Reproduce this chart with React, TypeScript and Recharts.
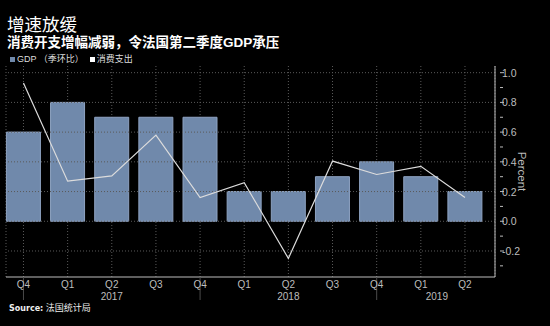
import {
  ComposedChart,
  Bar,
  Line,
  XAxis,
  YAxis,
  CartesianGrid,
  ReferenceLine,
} from "recharts";

const quarters = ["Q4", "Q1", "Q2", "Q3", "Q4", "Q1", "Q2", "Q3", "Q4", "Q1", "Q2"];
const gdp = [0.6, 0.8, 0.7, 0.7, 0.7, 0.2, 0.2, 0.3, 0.4, 0.3, 0.2];
const spending = [0.93, 0.27, 0.305, 0.58, 0.16, 0.26, -0.25, 0.405, 0.315, 0.37, 0.16];
const yearLabels: Record<number, string> = { 2: "2017", 6: "2018", 9: "2019" };
const yearBreaks = [0, 4, 8];
const yTicks = [-0.2, 0, 0.2, 0.4, 0.6, 0.8, 1.0];
const yMinorTicks = [-0.3, -0.1, 0.1, 0.3, 0.5, 0.7, 0.9];

const data = quarters.map((q, i) => ({ i, q, gdp: gdp[i], spending: spending[i] }));

const FONT = '"Liberation Sans", "Noto Sans CJK SC", sans-serif';
const AXIS = "#bdbdbd";

// the tick y handed over sits 8px below the axis line
function QuarterTick(props: any) {
  const { x, y, payload } = props;
  const i = payload.value as number;
  const base = y - 8;
  return (
    <g>
      {yearBreaks.includes(i) && (
        <line x1={x} y1={base} x2={x} y2={base + 23} stroke="#4a4a4a" strokeWidth={1} />
      )}
      <text x={x} y={base + 10.5} textAnchor="middle" fill={AXIS} fontSize={10} fontFamily={FONT}>
        {quarters[i]}
      </text>
      {yearLabels[i] && (
        <text
          x={i === 9 ? x + 16 : x}
          y={base + 22.5}
          textAnchor="middle"
          fill={AXIS}
          fontSize={10}
          fontFamily={FONT}
        >
          {yearLabels[i]}
        </text>
      )}
    </g>
  );
}

function ValueTick(props: any) {
  const { x, y, payload } = props;
  const v = payload.value as number;
  const major = yTicks.some((t) => Math.abs(t - v) < 1e-6);
  return (
    <g>
      <line x1={x - 3} y1={y} x2={x + (major ? 1 : 0)} y2={y} stroke={AXIS} strokeWidth={1} />
      {major && (
        <text x={x - 1} y={y + 4} fill={AXIS} fontSize={10.5} fontFamily={FONT}>
          {v.toFixed(1)}
        </text>
      )}
    </g>
  );
}

export default function App() {
  return (
    <div
      style={{
        position: "fixed",
        left: 0,
        top: 0,
        width: 550,
        height: 326,
        background: "#000",
        fontFamily: FONT,
        overflow: "hidden",
      }}
    >
      <div style={{ position: "absolute", left: 7, top: 15, color: "#fff", fontSize: 17.5, lineHeight: "20px" }}>
        增速放缓
      </div>
      <div
        style={{
          position: "absolute",
          left: 7,
          top: 35,
          color: "#fff",
          fontSize: 13.5,
          fontWeight: 700,
          lineHeight: "15px",
        }}
      >
        消费开支增幅减弱，令法国第二季度GDP承压
      </div>
      <div
        style={{
          position: "absolute",
          left: 10,
          top: 53,
          color: "#ddd",
          fontSize: 9,
          lineHeight: "12px",
          display: "flex",
          alignItems: "center",
        }}
      >
        <span style={{ width: 5, height: 5, background: "#7089ab", marginRight: 2 }} />
        <span>GDP （季环比）</span>
        <span style={{ width: 5, height: 5, background: "#fff", marginLeft: 6, marginRight: 2 }} />
        <span>消费支出</span>
      </div>
      <div style={{ position: "absolute", left: 9, top: 302, color: "#eee", fontSize: 9, lineHeight: "12px" }}>
        <b style={{ fontFamily: '"DejaVu Sans", sans-serif', fontSize: 8 }}>Source:</b> 法国统计局
      </div>
      <div style={{ position: "absolute", left: 0, top: 0 }}>
        <ComposedChart
          width={550}
          height={326}
          data={data}
          margin={{ top: 66, right: 0, bottom: 19, left: 6 }}
        >
          <CartesianGrid horizontal={false} stroke="#5a5a5a" strokeDasharray="1 2" />
          {yTicks.map((t) => (
            <ReferenceLine key={t} y={t} yAxisId="v" stroke="#5a5a5a" strokeDasharray="1 2" />
          ))}
          <XAxis
            dataKey="i"
            type="number"
            domain={[-0.396, 10.68]}
            ticks={quarters.map((_, i) => i)}
            interval={0}
            height={30}
            stroke={AXIS}
            tickLine={false}
            tick={<QuarterTick />}
          />
          <YAxis
            yAxisId="v"
            orientation="right"
            type="number"
            domain={[-0.375, 1.045]}
            ticks={[...yTicks, ...yMinorTicks].sort((a, b) => a - b)}
            interval={0}
            width={55}
            stroke={AXIS}
            tickLine={false}
            tick={<ValueTick />}
            label={{
              value: "Percent",
              angle: 90,
              position: "center",
              fill: AXIS,
              fontSize: 11.5,
              fontFamily: FONT,
            }}
          />
          <Bar
            yAxisId="v"
            dataKey="gdp"
            fill="#7089ab"
            stroke="#8ea3c2"
            strokeWidth={1}
            barSize={34}
            isAnimationActive={false}
          />
          <Line
            yAxisId="v"
            dataKey="spending"
            stroke="#dcdcdc"
            strokeWidth={1.2}
            dot={false}
            activeDot={false}
            type="linear"
            isAnimationActive={false}
          />
        </ComposedChart>
      </div>
    </div>
  );
}
